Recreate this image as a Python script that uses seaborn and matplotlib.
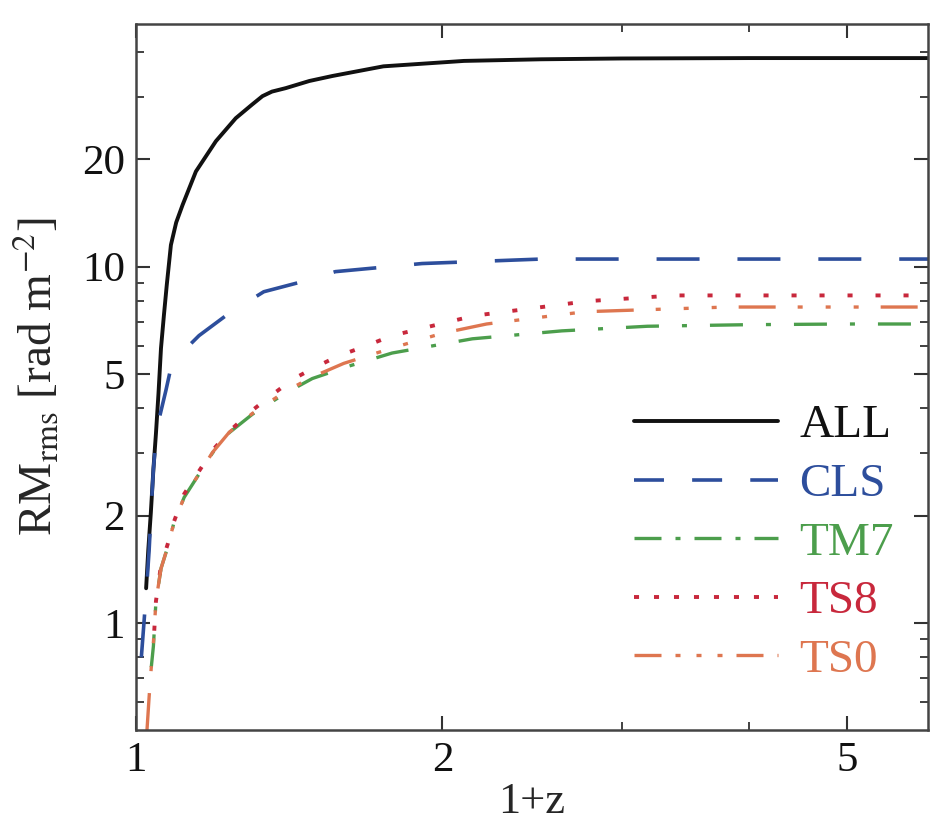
import numpy as np
import pandas as pd
import matplotlib
matplotlib.use("Agg")
import matplotlib.pyplot as plt
import seaborn as sns
from matplotlib.ticker import FixedLocator, NullFormatter

# ---- data ----
z_all = [1.023, 1.028, 1.034, 1.04, 1.046, 1.052, 1.058, 1.065, 1.072, 1.082, 1.095, 1.111,
         1.145, 1.198, 1.253, 1.30, 1.331, 1.36, 1.403, 1.48, 1.56, 1.75, 2.1, 2.5, 3.0, 4.0, 5.0, 6.0]
rm_all = [1.25, 1.6, 2.04, 2.7, 3.4, 4.4, 5.9, 7.3, 8.9, 11.5, 13.3, 14.9,
          18.5, 22.5, 26.1, 28.5, 30.1, 31.0, 31.7, 33.2, 34.3, 36.5, 37.8, 38.2, 38.4, 38.5, 38.5, 38.5]

z_cls = [1.012, 1.018, 1.025, 1.03, 1.035, 1.04, 1.046, 1.055, 1.07, 1.082, 1.1, 1.153,
         1.233, 1.335, 1.458, 1.57, 1.91, 2.5, 3.0, 4.0, 5.0, 6.0]
rm_cls = [0.8, 1.0, 1.3, 1.6, 2.1, 2.7, 3.3, 3.8, 4.5, 5.2, 5.6, 6.4,
          7.38, 8.5, 9.08, 9.68, 10.2, 10.5, 10.5, 10.5, 10.5, 10.5]

z_tm7 = [1.035, 1.04, 1.046, 1.058, 1.074, 1.09, 1.115, 1.189, 1.235, 1.301, 1.4, 1.49,
         1.62, 1.785, 2.14, 2.62, 3.18, 4.0, 5.0, 6.0]
rm_tm7 = [0.75, 0.86, 1.15, 1.42, 1.63, 1.92, 2.25, 3.0, 3.42, 3.85, 4.4, 4.85,
          5.26, 5.72, 6.27, 6.6, 6.8, 6.87, 6.9, 6.9]

z_ts8 = [1.042, 1.046, 1.058, 1.074, 1.09, 1.115, 1.189, 1.235, 1.301, 1.351, 1.426, 1.5,
         1.58, 1.68, 1.785, 2.03, 2.15, 2.78, 3.38, 4.0, 5.0, 6.0]
rm_ts8 = [0.95, 1.15, 1.45, 1.66, 1.93, 2.3, 3.05, 3.45, 3.95, 4.3, 4.83, 5.22,
          5.61, 5.98, 6.4, 7.0, 7.28, 8.0, 8.3, 8.3, 8.3, 8.3]

z_ts0 = [1.025, 1.03, 1.035, 1.04, 1.046, 1.058, 1.074, 1.09, 1.115, 1.189, 1.235, 1.301,
         1.4, 1.49, 1.6, 1.8, 2.0, 2.21, 2.76, 3.81, 5.0, 6.0]
rm_ts0 = [0.5, 0.62, 0.75, 0.88, 1.15, 1.42, 1.63, 1.92, 2.25, 3.01, 3.43, 3.87,
          4.45, 4.9, 5.35, 5.95, 6.5, 6.9, 7.47, 7.7, 7.7, 7.7]

labels = ["ALL", "CLS", "TM7", "TS8", "TS0"]
zs = [z_all, z_cls, z_tm7, z_ts8, z_ts0]
rms = [rm_all, rm_cls, rm_tm7, rm_ts8, rm_ts0]
colors = ["#111111", "#2d4e9c", "#4c9e4c", "#c8283c", "#de7650"]
lws = [2.8, 2.6, 2.4, 2.8, 2.4]
dash_plot = [None,
             (11.9, 10.5),
             (9.9, 6.9, 1.5, 6.9),
             (1.3, 5.9),
             (11.1, 6.6, 1.5, 6.9, 1.5, 6.9, 1.5, 6.6)]
dash_leg = [None,
            (8.3, 7.8),
            (8.1, 4.2, 1.5, 4.2),
            (1.3, 3.84),
            (8.1, 4.2, 1.5, 4.8, 1.5, 4.8, 1.5, 4.2)]

sns.set_theme(style="ticks")
plt.rcParams["font.family"] = ["Liberation Serif", "DejaVu Serif"]
plt.rcParams["mathtext.fontset"] = "stix"

fig = plt.figure(figsize=(9.32, 8.32), dpi=100)
ax = fig.add_axes([0.146, 0.1226, 0.8497, 0.8486])

for lab, z, rm, c, lw, d in zip(labels, zs, rms, colors, lws, dash_plot):
    df = pd.DataFrame({"z": z, "rm": rm})
    ls = "-" if d is None else (0, d)
    sns.lineplot(data=df, x="z", y="rm", ax=ax, color=c, lw=lw, linestyle=ls,
                 label=lab, sort=False, estimator=None)

ax.set_xscale("log")
ax.set_yscale("log")
ax.set_xlim(1, 6)
ax.set_ylim(0.5, 48)

ax.xaxis.set_major_locator(FixedLocator([1, 2, 5]))
ax.xaxis.set_minor_locator(FixedLocator([3, 4]))
ax.set_xticklabels(["1", "2", "5"])
ax.xaxis.set_minor_formatter(NullFormatter())
ax.yaxis.set_major_locator(FixedLocator([1, 2, 5, 10, 20]))
ax.yaxis.set_minor_locator(FixedLocator([0.6, 0.7, 0.8, 0.9, 3, 4, 6, 7, 8, 9, 30, 40]))
ax.set_yticklabels(["1", "2", "5", "10", "20"])
ax.yaxis.set_minor_formatter(NullFormatter())

ax.tick_params(which="both", direction="in", top=True, right=True, colors="#333333",
               labelcolor="#111111")
ax.tick_params(which="major", length=10, width=1.5, labelsize=31, pad=8)
ax.tick_params(which="minor", length=6, width=1.3)
for s in ax.spines.values():
    s.set_linewidth(1.8)
    s.set_color("#444444")

ax.set_xlabel("1+z", fontsize=32, labelpad=2)
ax.set_ylabel(r"RM$_{\rm rms}$ [rad m$^{-2}$]", fontsize=34, labelpad=14)

leg = ax.legend(loc="lower right", bbox_to_anchor=(0.957, 0.068), frameon=False,
                fontsize=34, handlelength=3.05, handletextpad=0.45, labelspacing=0.33,
                borderpad=0, borderaxespad=0)
for t, line, c, d in zip(leg.get_texts(), leg.get_lines(), colors, dash_leg):
    t.set_color(c)
    if d is not None:
        line.set_linestyle((0, d))

fig.savefig("out.png", dpi=100)
